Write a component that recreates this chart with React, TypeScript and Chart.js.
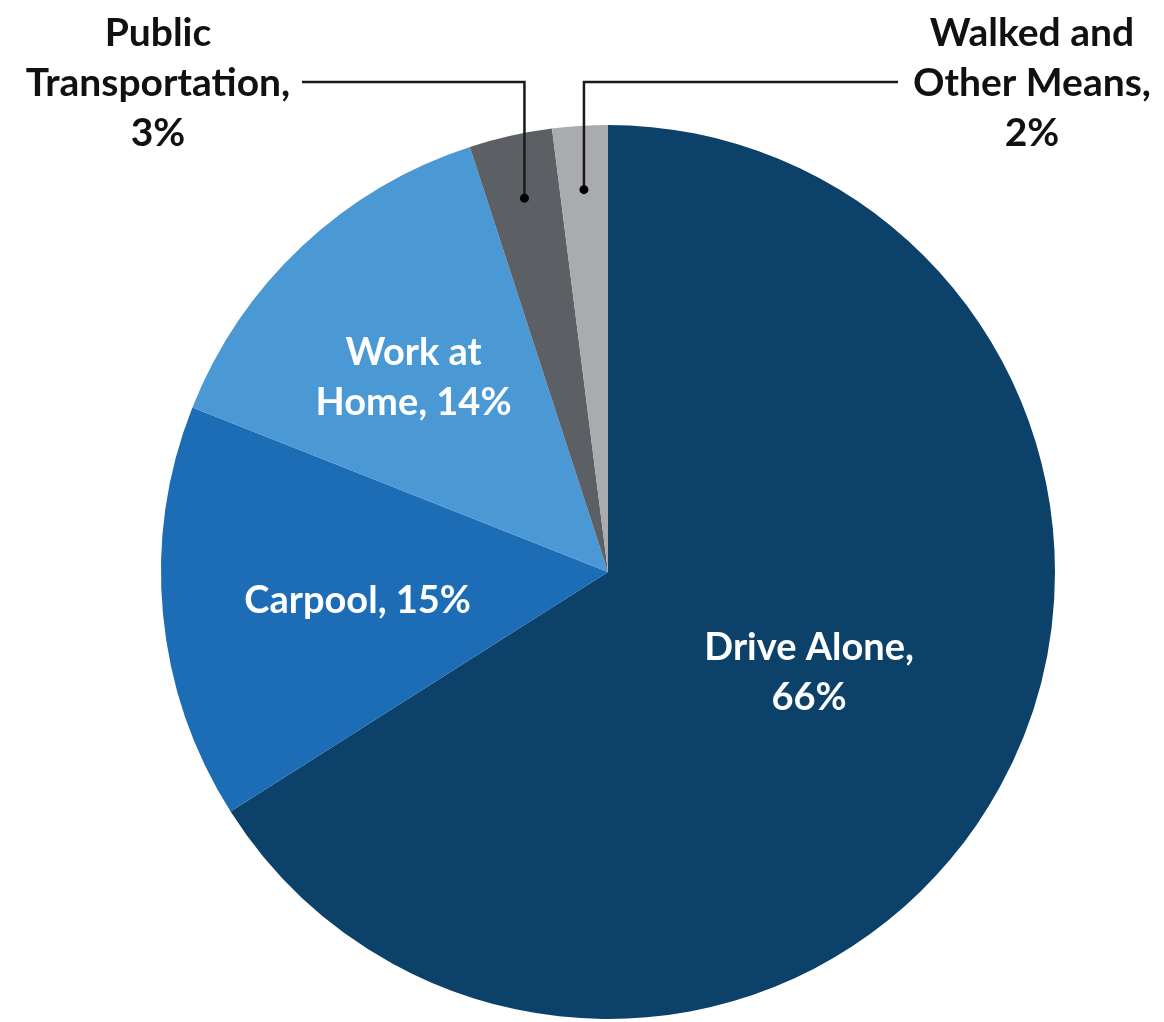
import React, { useEffect, useRef } from "react";
import { Chart, registerables } from "chart.js";

Chart.register(...registerables);

const categories = ["Drive Alone", "Carpool", "Work at Home", "Public Transportation", "Walked and Other Means"];
const shares = [66, 15, 14, 3, 2];
const colors = ["#0c416a", "#1d6db6", "#4a98d4", "#5c5f63", "#a9abae"];

const FONT = "Lato, 'Open Sans', sans-serif";

const labelPlugin = {
  id: "pieLabels",
  afterDatasetsDraw(chart: any) {
    const ctx = chart.ctx;
    const arcs = chart.getDatasetMeta(0).data;
    const cx = arcs[0].x;
    const cy = arcs[0].y;
    const R = arcs[0].outerRadius;
    ctx.save();
    ctx.textAlign = "center";
    ctx.textBaseline = "middle";
    const lh = 50;
    const drawLines = (lines: string[], x: number, y: number, color: string, size: number) => {
      ctx.font = `bold ${size}px ${FONT}`;
      ctx.fillStyle = color;
      lines.forEach((l, i) => ctx.fillText(l, x, y + i * lh));
    };
    // inside labels (white)
    drawLines([`${categories[0]},`, `${shares[0]}%`], cx + 0.45 * R, cy + 0.17 * R, "#ffffff", 38);
    drawLines([`${categories[1]}, ${shares[1]}%`], cx - 0.56 * R, cy + 0.065 * R, "#ffffff", 38);
    drawLines(["Work at", `Home, ${shares[2]}%`], cx - 0.435 * R, cy - 0.49 * R, "#ffffff", 38);

    // outside labels with leader lines
    const leader = (idx: number, lineEndX: number, textX: number, lines: string[]) => {
      const a = arcs[idx];
      const mid = (a.startAngle + a.endAngle) / 2;
      const dx = cx + Math.cos(mid) * R * 0.857;
      const dy = cy + Math.sin(mid) * R * 0.857;
      const hy = 82;
      ctx.strokeStyle = "#1a1a1a";
      ctx.lineWidth = 2.5;
      ctx.beginPath();
      ctx.moveTo(lineEndX, hy);
      ctx.lineTo(dx, hy);
      ctx.lineTo(dx, dy);
      ctx.stroke();
      ctx.fillStyle = "#000";
      ctx.beginPath();
      ctx.arc(dx, dy, 4.5, 0, Math.PI * 2);
      ctx.fill();
      drawLines(lines, textX, 33, "#111111", 39);
    };
    leader(3, 302, 158, ["Public", "Transportation,", `${shares[3]}%`]);
    leader(4, 898, 1032, ["Walked and", "Other Means,", `${shares[4]}%`]);
    ctx.restore();
  },
};

export default function App() {
  const ref = useRef<HTMLCanvasElement>(null);
  useEffect(() => {
    if (!ref.current) return;
    const chart = new Chart(ref.current, {
      type: "pie",
      data: {
        labels: categories,
        datasets: [
          {
            data: shares,
            backgroundColor: colors,
            borderWidth: 0,
          },
        ],
      },
      options: {
        responsive: false,
        animation: false,
        layout: { padding: { left: 161, right: 109, top: 125, bottom: 3 } },
        plugins: {
          legend: { display: false },
          tooltip: { enabled: false },
        },
      },
      plugins: [labelPlugin],
    });
    return () => chart.destroy();
  }, []);
  return (
    <div style={{ position: "fixed", left: 0, top: 0, width: 1164, height: 1022, background: "#fff" }}>
      <canvas ref={ref} width={1164} height={1022} style={{ width: 1164, height: 1022, display: "block" }} />
    </div>
  );
}
